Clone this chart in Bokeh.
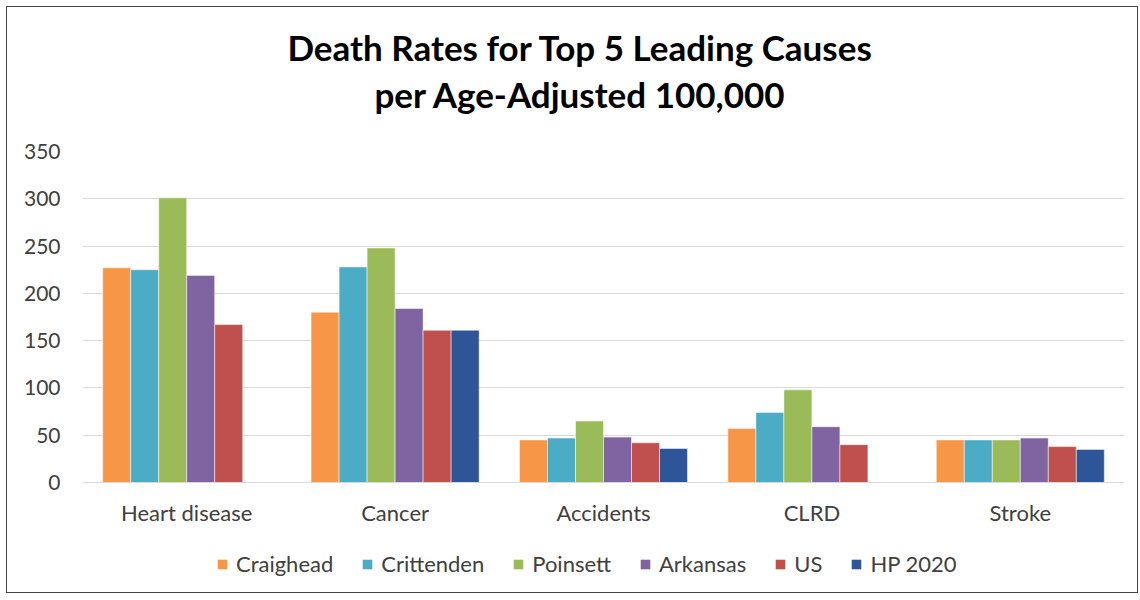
import numpy as np
from bokeh.plotting import figure
from bokeh.layouts import column
from bokeh.models import FactorRange, ColumnDataSource, Legend, LegendItem, SingleIntervalTicker, Label
from bokeh.transform import dodge
from bokeh.embed import file_html
from bokeh.resources import INLINE

causes = ["Heart disease", "Cancer", "Accidents", "CLRD", "Stroke"]
series = ["Craighead", "Crittenden", "Poinsett", "Arkansas", "US", "HP 2020"]
craighead = [227, 180, 45, 57, 45]
crittenden = [225, 228, 47, 74, 45]
poinsett = [301, 248, 65, 98, 45]
arkansas = [219, 184, 48, 59, 47]
us = [167, 161, 42, 40, 38]
hp2020 = [None, 161, 36, None, 35]
colors = ["#F79646", "#4BACC6", "#9BBB59", "#8064A2", "#C0504D", "#2E5597"]
title_lines = ["Death Rates for Top 5 Leading Causes", "per Age-Adjusted 100,000"]

values = [craighead, crittenden, poinsett, arkansas, us, hp2020]
data = {"cause": causes}
for name, vals in zip(series, values):
    data[name] = [np.nan if v is None else v for v in vals]
source = ColumnDataSource(data)

FONT = "Lato"
TXT = "#404040"
W = 1130

# title strip
pt = figure(width=W, height=132, output_backend="svg", toolbar_location=None, tools="",
            x_axis_type=None, y_axis_type=None, min_border=0)
pt.outline_line_color = None
pt.grid.visible = False
for line, yb in zip(title_lines, [93, 46]):
    pt.add_layout(Label(x=498, y=yb, x_units="screen", y_units="screen", text=line,
                        text_align="center", text_baseline="alphabetic", text_font=FONT,
                        text_font_size="35px", text_font_style="bold", text_color="#000000"))

# main chart
p = figure(x_range=FactorRange(*causes), y_range=(0, 350),
           frame_width=1042, frame_height=331,
           output_backend="svg", toolbar_location=None, tools="",
           min_border_left=75, min_border_right=13, min_border_top=12, min_border_bottom=50)
p.outline_line_color = None

bw = 0.1344
for i, (name, col) in enumerate(zip(series, colors)):
    p.vbar(x=dodge("cause", (i - 2.5) * bw, range=p.x_range), top=name, width=bw,
           source=source, fill_color=col, line_color="white", line_alpha=0.5, line_width=1)

p.yaxis.ticker = SingleIntervalTicker(interval=50)
p.yaxis.axis_line_color = None
p.yaxis.major_tick_line_color = None
p.yaxis.minor_tick_line_color = None
p.yaxis.major_label_text_font = FONT
p.yaxis.major_label_text_font_size = "21px"
p.yaxis.major_label_text_color = TXT
p.yaxis.major_label_standoff = 16

p.xaxis.axis_line_color = "#D9D9D9"
p.xaxis.major_tick_line_color = None
p.xaxis.minor_tick_line_color = None
p.xaxis.major_label_text_font = FONT
p.xaxis.major_label_text_font_size = "22px"
p.xaxis.major_label_text_color = TXT
p.xaxis.major_label_standoff = 10

p.xgrid.grid_line_color = None
p.ygrid.grid_line_color = "#D9D9D9"
p.ygrid.grid_line_width = 1

# legend strip below the chart
pl = figure(width=W, height=60, output_backend="svg", toolbar_location=None, tools="",
            x_axis_type=None, y_axis_type=None, min_border=0)
pl.outline_line_color = None
pl.grid.visible = False
legend_renderers = []
for name, col in zip(series, colors):
    r = pl.vbar(x=[0], top=[0], width=bw, fill_color=col, line_color=None)
    legend_renderers.append(r)
legend = Legend(items=[LegendItem(label=n, renderers=[r]) for n, r in zip(series, legend_renderers)],
                orientation="horizontal", location=(134, 15), border_line_color=None,
                label_text_font=FONT, label_text_font_size="22px", label_text_color=TXT,
                glyph_width=12, glyph_height=12, label_standoff=8, spacing=28,
                padding=4, margin=0, background_fill_alpha=0)
pl.add_layout(legend, "center")

layout = column(pt, p, pl, spacing=0, styles={"border": "1px solid #444444", "margin": "6px"})

open("out.html", "w").write(file_html(layout, INLINE))
